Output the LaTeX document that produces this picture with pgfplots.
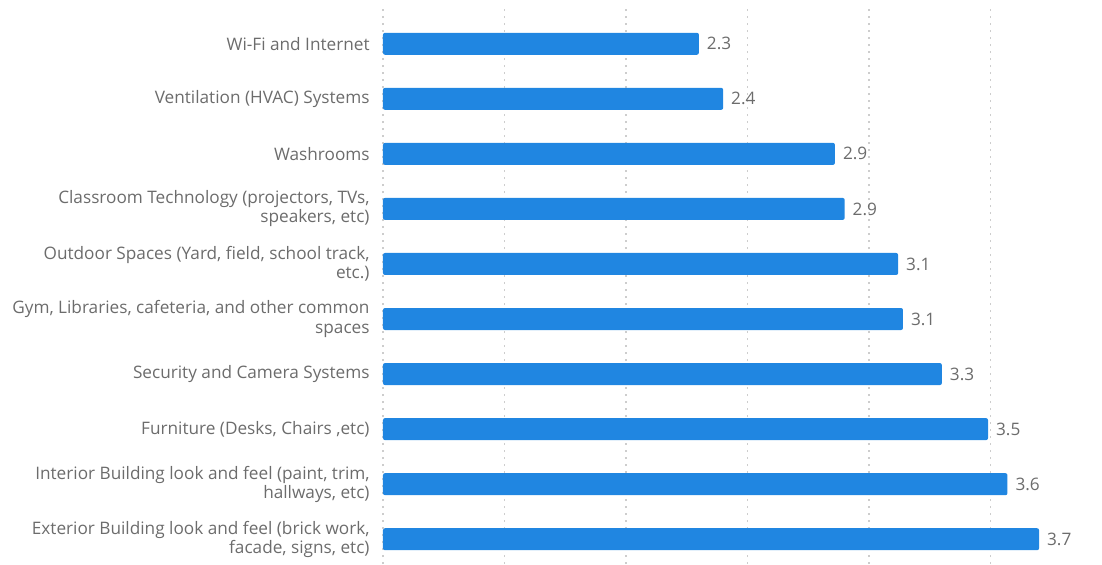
\documentclass[border=0pt]{standalone}
\usepackage{fontspec}
\setmainfont{Open Sans}
\usepackage{pgfplots}
\pgfplotsset{compat=1.18}
\definecolor{barblue}{RGB}{32,134,225}
\definecolor{txtgray}{RGB}{108,108,108}
\definecolor{gridgray}{RGB}{205,205,205}
\begin{document}
\begin{tikzpicture}
\begin{axis}[
  scale only axis,
  width=359.5pt, height=278pt,
  xbar, bar width=11pt,
  xmin=1, xmax=3.959,
  ymin=-0.45, ymax=9.65,
  axis line style={draw=none},
  xtick={1,1.5,2,2.5,3,3.5},
  xticklabels={},
  major tick length=0pt,
  xmajorgrids,
  major grid style={gridgray, line width=0.8pt, dash pattern=on 0.8pt off 2.7pt},
  ytick={0,...,9},
  yticklabels={
    {Exterior Building look and feel (brick work,\\facade, signs, etc)},
    {Interior Building look and feel (paint, trim,\\hallways, etc)},
    {Furniture (Desks, Chairs ,etc)},
    {Security and Camera Systems},
    {Gym, Libraries, cafeteria, and other common\\spaces},
    {Outdoor Spaces (Yard, field, school track,\\etc.)},
    {Classroom Technology (projectors, TVs,\\speakers, etc)},
    {Washrooms},
    {Ventilation (HVAC) Systems},
    {Wi-Fi and Internet}},
  yticklabel style={align=right, font=\fontsize{8.6}{9.6}\selectfont, text=txtgray, inner sep=0pt, xshift=-6.5pt},
  nodes near coords,
  nodes near coords style={font=\fontsize{8.6}{9.6}\selectfont, text=txtgray, xshift=0.5pt},
  /pgf/number format/assume math mode=true,
  /pgf/number format/fixed, /pgf/number format/fixed zerofill, /pgf/number format/precision=1,
]
\addplot[draw=none, fill=barblue, rounded corners=1pt] coordinates {
  (3.70,0) (3.57,1) (3.49,2) (3.30,3) (3.14,4) (3.12,5) (2.90,6) (2.86,7) (2.40,8) (2.30,9)
};
\end{axis}
\pgfresetboundingbox
\path[use as bounding box] ([xshift=-191.5pt]current axis.south west) rectangle ([yshift=4pt]current axis.north east);
\end{tikzpicture}
\end{document}
